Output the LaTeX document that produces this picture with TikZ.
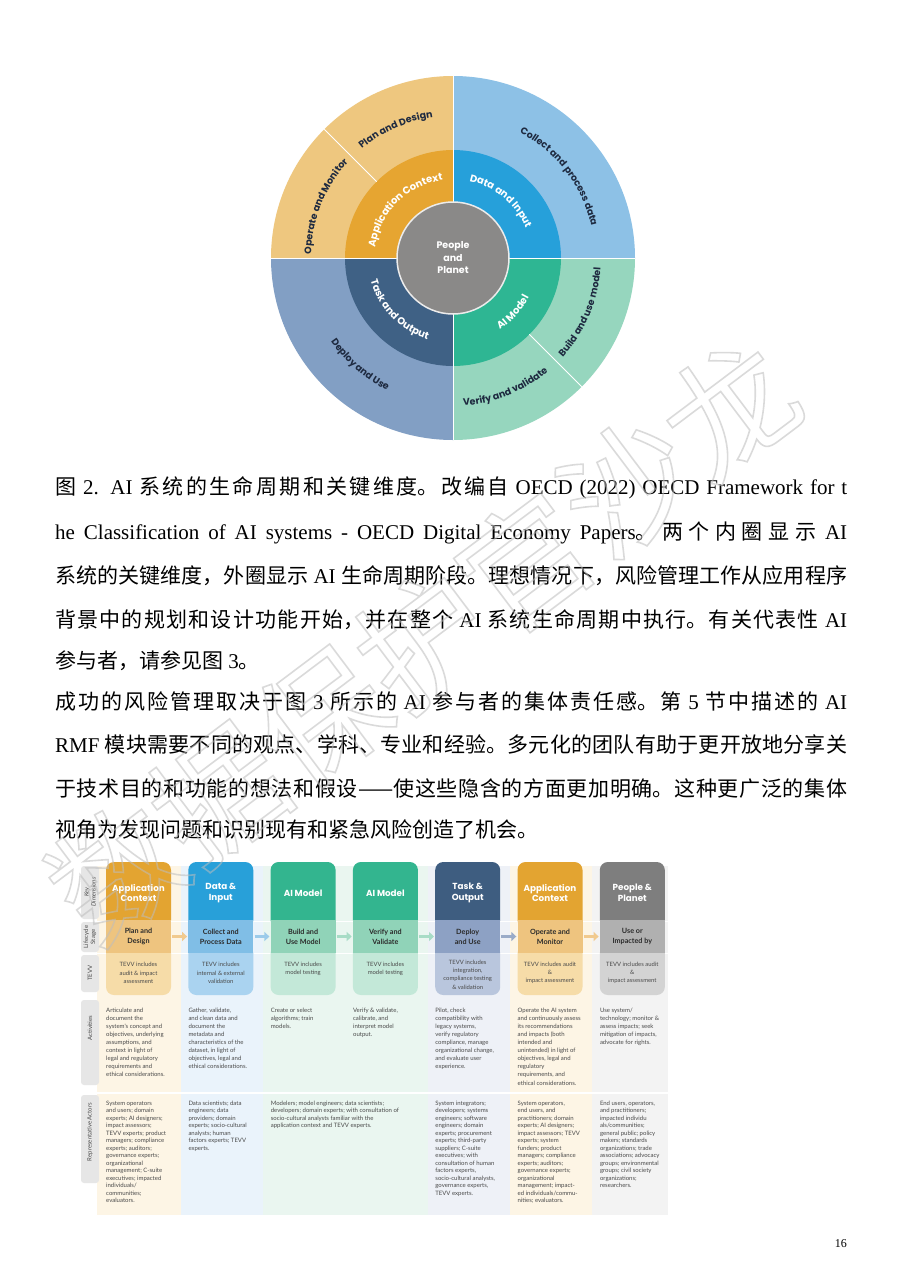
\documentclass[tikz,border=0pt]{standalone}
\usepackage{fontspec}
\setmainfont{Liberation Serif}
\newfontfamily\cjk{Noto Sans CJK SC}
\newfontfamily\pop{Poppins}
\newfontfamily\lato{Lato}
\usetikzlibrary{decorations.text,arrows.meta}
\XeTeXlinebreaklocale "zh"
\XeTeXlinebreakskip=0pt plus 4pt
% circle colours
\definecolor{oOr}{HTML}{EEC77F}
\definecolor{oBl}{HTML}{8DC1E6}
\definecolor{oSl}{HTML}{829FC4}
\definecolor{oGr}{HTML}{96D6BE}
\definecolor{mOr}{HTML}{E6A531}
\definecolor{mBl}{HTML}{26A0DA}
\definecolor{mSl}{HTML}{3F6185}
\definecolor{mGr}{HTML}{2EB693}
\definecolor{cGray}{HTML}{8A8988}
\definecolor{navytxt}{HTML}{1E2A40}
% table colours
\definecolor{hApp}{HTML}{E3A431}\definecolor{lApp}{HTML}{EEC47F}\definecolor{tApp}{HTML}{F6DCA8}
\definecolor{hDat}{HTML}{28A0D9}\definecolor{lDat}{HTML}{80BEE6}\definecolor{tDat}{HTML}{AAD3F0}
\definecolor{hAI}{HTML}{33B58F}\definecolor{lAI}{HTML}{90D3B8}\definecolor{tAI}{HTML}{C3E8D8}
\definecolor{hTsk}{HTML}{3E5D80}\definecolor{lTsk}{HTML}{8DA1C4}\definecolor{tTsk}{HTML}{B9C6DD}
\definecolor{hPpl}{HTML}{7E7E7E}\definecolor{lPpl}{HTML}{B0B0B0}\definecolor{tPpl}{HTML}{D3D3D3}
\definecolor{bApp}{HTML}{FDF5E5}\definecolor{bDat}{HTML}{EAF3FB}\definecolor{bAI}{HTML}{EAF6F0}
\definecolor{bTsk}{HTML}{EEF1F7}\definecolor{bPpl}{HTML}{F3F3F3}
\definecolor{aApp}{HTML}{F1CA8E}\definecolor{aDat}{HTML}{9CCBEA}\definecolor{aAI}{HTML}{A8DCC6}
\definecolor{aTsk}{HTML}{9AABC8}
\definecolor{smalltext}{HTML}{4A4A4A}
\definecolor{lifetext}{HTML}{2B2B2B}
\definecolor{labgray}{HTML}{E6E6E6}
\definecolor{wmgray}{HTML}{BDBDBD}
\newcommand\ofont{\pop\bfseries\fontsize{9.5}{11}\selectfont\color{navytxt}}
\newcommand\mfont{\pop\bfseries\fontsize{10}{12}\selectfont\color{white}}
\newcommand\jl{\noindent\parfillskip=0pt\relax}
\begin{document}
\begin{tikzpicture}[x=1pt,y=1pt,
  hdrtxt/.style={text=white,font=\pop\bfseries\fontsize{8.8}{10.5}\selectfont,align=center,inner sep=0},
  lifebox/.style={minimum width=65pt,minimum height=33pt,inner sep=0,align=center,font=\lato\bfseries\fontsize{7.2}{9.8}\selectfont,text=lifetext},
  tevvtxt/.style={align=center,inner sep=0,font=\lato\fontsize{5.9}{8.3}\selectfont,text=smalltext},
  acttxt/.style={align=left,anchor=north west,inner sep=0,font=\lato\fontsize{6}{8.1}\selectfont,text=smalltext},
  actortxt/.style={align=left,anchor=north west,inner sep=0,font=\lato\fontsize{6}{7.5}\selectfont,text=smalltext},
  rowlab/.style={rotate=90,align=center,inner sep=0,font=\lato\fontsize{6}{7}\selectfont,text=smalltext},
  para/.style={anchor=base west,inner sep=0,font=\fontsize{21}{26}\selectfont},
  flowarr/.style={line width=3.5pt,-{Triangle[width=9pt,length=5pt]},shorten <=1pt,shorten >=1pt},
  ringline/.style={white,line width=1pt}
]
\useasboundingbox (0,0) rectangle (902,-1275);
\fill[white] (0,0) rectangle (902,-1275);

% ================= circle =================
\begin{scope}[shift={(453,-258)}]
  \fill[oBl] (0,0) -- (0:182) arc[start angle=0,end angle=90,radius=182] -- cycle;
  \fill[oOr] (0,0) -- (90:182) arc[start angle=90,end angle=180,radius=182] -- cycle;
  \fill[oSl] (0,0) -- (180:182) arc[start angle=180,end angle=270,radius=182] -- cycle;
  \fill[oGr] (0,0) -- (270:182) arc[start angle=270,end angle=360,radius=182] -- cycle;
  \fill[mBl] (0,0) -- (0:108) arc[start angle=0,end angle=90,radius=108] -- cycle;
  \fill[mOr] (0,0) -- (90:108) arc[start angle=90,end angle=180,radius=108] -- cycle;
  \fill[mSl] (0,0) -- (180:108) arc[start angle=180,end angle=270,radius=108] -- cycle;
  \fill[mGr] (0,0) -- (270:108) arc[start angle=270,end angle=360,radius=108] -- cycle;
  \draw[ringline] (0:56) -- (0:182);
  \draw[ringline] (90:56) -- (90:182);
  \draw[ringline] (180:56) -- (180:182);
  \draw[ringline] (270:56) -- (270:182);
  \draw[ringline] (135:108) -- (135:182);
  \draw[ringline] (-45:108) -- (-45:182);
  \node[circle,fill=cGray,draw=white!85!gray,line width=1.5pt,minimum size=112pt,inner sep=0,
        align=center,text=white,font=\pop\bfseries\fontsize{9.5}{12.5}\selectfont] (pp) at (0,0) {People\\and\\Planet};
  % outer labels
  \path[decorate,decoration={text along path,text align=center,text={|\ofont|Plan and Design}}]
     (184:142) arc[start angle=184,end angle=44,radius=142];
  \path[decorate,decoration={text along path,text align=center,text={|\ofont|Operate and Monitor}}]
     (228:142) arc[start angle=228,end angle=88,radius=142];
  \path[decorate,decoration={text along path,text align=center,text={|\ofont|Collect and process data}}]
     (107.5:142) arc[start angle=107.5,end angle=-32.5,radius=142];
  \path[decorate,decoration={text along path,text align=center,text={|\ofont|Build and use model}}]
     (-93:148) arc[start angle=-93,end angle=47,radius=148];
  \path[decorate,decoration={text along path,text align=center,text={|\ofont|Verify and validate}}]
     (-138:148) arc[start angle=-138,end angle=2,radius=148];
  \path[decorate,decoration={text along path,text align=center,text={|\ofont|Deploy and Use}}]
     (-201:148) arc[start angle=-201,end angle=-61,radius=148];
  % middle labels
  \path[decorate,decoration={text along path,text align=center,text={|\mfont|Application Context}}]
     (205:78.5) arc[start angle=205,end angle=65,radius=78.5];
  \path[decorate,decoration={text along path,text align=center,text={|\mfont|Data and Input}}]
     (120:78.5) arc[start angle=120,end angle=-20,radius=78.5];
  \path[decorate,decoration={text along path,text align=center,text={|\mfont|Task and Output}}]
     (-206:85.5) arc[start angle=-206,end angle=-66,radius=85.5];
  \path[decorate,decoration={text along path,text align=center,text={|\mfont|AI Model}}]
     (-112:85.5) arc[start angle=-112,end angle=28,radius=85.5];
\end{scope}

% ================= paragraph =================
\node[para] (p1) at (55,-494) {\parbox[t]{792pt}{\jl{\cjk 图} 2. AI {\cjk 系统的生命周期和关键维度。改编自} OECD (2022) OECD Framework for t}};
\node[para] (p2) at (55,-539) {\parbox[t]{792pt}{\jl he Classification of AI systems - OECD Digital Economy Papers{\cjk 。两个内圈显示} AI}};
\node[para] (p3) at (55,-583) {\parbox[t]{792pt}{\jl{\cjk 系统的关键维度，外圈显示} AI {\cjk 生命周期阶段。理想情况下，风险管理工作从应用程序}}};
\node[para] (p4) at (55,-627) {\parbox[t]{792pt}{\jl{\cjk 背景中的规划和设计功能开始，并在整个} AI {\cjk 系统生命周期中执行。有关代表性} AI}};
\node[para] (p5) at (55,-668) {{\cjk 参与者，请参见图} 3{\cjk 。}};
\node[para] (p6) at (55,-709) {\parbox[t]{792pt}{\jl{\cjk 成功的风险管理取决于图} 3 {\cjk 所示的} AI {\cjk 参与者的集体责任感。第} 5 {\cjk 节中描述的} AI}};
\node[para] (p7) at (55,-752) {\parbox[t]{792pt}{\jl RMF {\cjk 模块需要不同的观点、学科、专业和经验。多元化的团队有助于更开放地分享关}}};
\node[para] (p8) at (55,-796) {\parbox[t]{792pt}{\jl{\cjk 于技术目的和功能的想法和假设——使这些隐含的方面更加明确。这种更广泛的集体}}};
\node[para] (p9) at (55,-837) {{\cjk 视角为发现问题和识别现有和紧急风险创造了机会。}};

% ================= table =================
% column bands
\fill[bApp] (97,-866) rectangle (181,-1215);
\fill[bDat] (181,-866) rectangle (263,-1215);
\fill[bAI]  (263,-866) rectangle (428,-1215);
\fill[bTsk] (428,-866) rectangle (510,-1215);
\fill[bApp] (510,-866) rectangle (592,-1215);
\fill[bPpl] (592,-866) rectangle (668,-1215);
\draw[white,line width=1pt] (97,-921) -- (668,-921);
\draw[white,line width=1pt] (97,-953) -- (668,-953);
\draw[white,line width=2pt] (97,-1093) -- (668,-1093);

% row labels
\fill[labgray,rounded corners=3pt] (81,-866) rectangle (99,-919);
\fill[labgray,rounded corners=3pt] (81,-922) rectangle (99,-952);
\fill[labgray,rounded corners=3pt] (81,-955) rectangle (99,-992);
\fill[labgray,rounded corners=3pt] (81,-1000) rectangle (99,-1085);
\fill[labgray,rounded corners=3pt] (81,-1095) rectangle (99,-1183);
\node[rowlab] (rk) at (90,-892) {\itshape Key\\\itshape Dimensions};
\node[rowlab] (rl) at (90,-937) {Lifecycle\\Stage};
\node[rowlab] (rt) at (90,-973) {TEVV};
\node[rowlab] (ra) at (90,-1028) {Activities};
\node[rowlab] (rr) at (90,-1132) {Representative Actors};

% boxes: header / TEVV backgrounds
\fill[hApp,rounded corners=8pt] (106,-862) rectangle (171,-928);
\fill[hDat,rounded corners=8pt] (188.3,-862) rectangle (253.3,-928);
\fill[hAI,rounded corners=8pt] (270.6,-862) rectangle (335.6,-928);
\fill[hAI,rounded corners=8pt] (352.9,-862) rectangle (417.9,-928);
\fill[hTsk,rounded corners=8pt] (435.2,-862) rectangle (500.2,-928);
\fill[hApp,rounded corners=8pt] (517.5,-862) rectangle (582.5,-928);
\fill[hPpl,rounded corners=8pt] (599.8,-862) rectangle (664.8,-928);
\fill[tApp,rounded corners=8pt] (106,-945) rectangle (171,-995);
\fill[tDat,rounded corners=8pt] (188.3,-945) rectangle (253.3,-995);
\fill[tAI,rounded corners=8pt] (270.6,-945) rectangle (335.6,-995);
\fill[tAI,rounded corners=8pt] (352.9,-945) rectangle (417.9,-995);
\fill[tTsk,rounded corners=8pt] (435.2,-945) rectangle (500.2,-995);
\fill[tApp,rounded corners=8pt] (517.5,-945) rectangle (582.5,-995);
\fill[tPpl,rounded corners=8pt] (599.8,-945) rectangle (664.8,-995);

% lifecycle nodes
\node[lifebox,fill=lApp] (l1) at (138.5,-936.5) {Plan and\\Design};
\node[lifebox,fill=lDat] (l2) at (220.8,-936.5) {Collect and\\Process Data};
\node[lifebox,fill=lAI]  (l3) at (303.1,-936.5) {Build and\\Use Model};
\node[lifebox,fill=lAI]  (l4) at (385.4,-936.5) {Verify and\\Validate};
\node[lifebox,fill=lTsk] (l5) at (467.7,-936.5) {Deploy\\and Use};
\node[lifebox,fill=lApp] (l6) at (550,-936.5) {Operate and\\Monitor};
\node[lifebox,fill=lPpl] (l7) at (632.3,-936.5) {Use or\\Impacted by};

% header text
\node[hdrtxt] (h1) at (138.5,-893) {Application\\Context};
\node[hdrtxt] (h2) at (220.8,-893) {Data \&\\Input};
\node[hdrtxt] (h3) at (303.1,-893) {AI Model};
\node[hdrtxt] (h4) at (385.4,-893) {AI Model};
\node[hdrtxt] (h5) at (467.7,-893) {Task \&\\Output};
\node[hdrtxt] (h6) at (550,-893) {Application\\Context};
\node[hdrtxt] (h7) at (632.3,-893) {People \&\\Planet};

% TEVV text
\node[tevvtxt] (t1) at (138.5,-973) {TEVV includes\\audit \& impact\\assessment};
\node[tevvtxt] (t2) at (220.8,-973) {TEVV includes\\internal \& external\\validation};
\node[tevvtxt] (t3) at (303.1,-969) {TEVV includes\\model testing};
\node[tevvtxt] (t4) at (385.4,-969) {TEVV includes\\model testing};
\node[tevvtxt] (t5) at (467.7,-974.5) {TEVV includes\\integration,\\compliance testing\\\& validation};
\node[tevvtxt] (t6) at (550,-973) {TEVV includes audit\\\&\\impact assessment};
\node[tevvtxt] (t7) at (632.3,-973) {TEVV includes audit\\\&\\impact assessment};

% arrows
\draw[flowarr,aApp] (l1.east) -- (l2.west);
\draw[flowarr,aDat] (l2.east) -- (l3.west);
\draw[flowarr,aAI]  (l3.east) -- (l4.west);
\draw[flowarr,aAI]  (l4.east) -- (l5.west);
\draw[flowarr,aTsk] (l5.east) -- (l6.west);
\draw[flowarr,aApp] (l6.east) -- (l7.west);

% activities
\node[acttxt] (a1) at (106,-1007.5) {Articulate and\\document the\\system's concept and\\objectives, underlying\\assumptions, and\\context in light of\\legal and regulatory\\requirements and\\ethical considerations.};
\node[acttxt] (a2) at (188.3,-1007.5) {Gather, validate,\\and clean data and\\document the\\metadata and\\characteristics of the\\dataset, in light of\\objectives, legal and\\ethical considerations.};
\node[acttxt] (a3) at (270.6,-1007.5) {Create or select\\algorithms; train\\models.};
\node[acttxt] (a4) at (352.9,-1007.5) {Verify \& validate,\\calibrate, and\\interpret model\\output.};
\node[acttxt] (a5) at (435.2,-1007.5) {Pilot, check\\compatibility with\\legacy systems,\\verify regulatory\\compliance, manage\\organizational change,\\and evaluate user\\experience.};
\node[acttxt] (a6) at (517.5,-1007.5) {Operate the AI system\\and continuously assess\\its recommendations\\and impacts (both\\intended and\\unintended) in light of\\objectives, legal and\\regulatory\\requirements, and\\ethical considerations.};
\node[acttxt] (a7) at (599.8,-1007.5) {Use system/\\technology; monitor \&\\assess impacts; seek\\mitigation of impacts,\\advocate for rights.};

% representative actors
\node[actortxt] (r1) at (106,-1100.5) {System operators\\and users; domain\\experts; AI designers;\\impact assessors;\\TEVV experts; product\\managers; compliance\\experts; auditors;\\governance experts;\\organizational\\management; C-suite\\executives; impacted\\individuals/\\communities;\\evaluators.};
\node[actortxt] (r2) at (188.3,-1100.5) {Data scientists; data\\engineers; data\\providers; domain\\experts; socio-cultural\\analysts; human\\factors experts; TEVV\\experts.};
\node[actortxt] (r3) at (270.6,-1100.5) {Modelers; model engineers; data scientists;\\developers; domain experts; with consultation of\\socio-cultural analysts familiar with the\\application context and TEVV experts.};
\node[actortxt] (r5) at (435.2,-1100.5) {System integrators;\\developers; systems\\engineers; software\\engineers; domain\\experts; procurement\\experts; third-party\\suppliers; C-suite\\executives; with\\consultation of human\\factors experts,\\socio-cultural analysts,\\governance experts,\\TEVV experts.};
\node[actortxt] (r6) at (517.5,-1100.5) {System operators,\\end users, and\\practitioners; domain\\experts; AI designers;\\impact assessors; TEVV\\experts; system\\funders; product\\managers; compliance\\experts; auditors;\\governance experts;\\organizational\\management; impact-\\ed individuals/commu-\\nities; evaluators.};
\node[actortxt] (r7) at (599.8,-1100.5) {End users, operators,\\and practitioners;\\impacted individu\\als/communities;\\general public; policy\\makers; standards\\organizations; trade\\associations; advocacy\\groups; environmental\\groups; civil society\\organizations;\\researchers.};

% page number
\node[anchor=base east,inner sep=0,font=\fontsize{12}{14}\selectfont] (pg) at (847,-1247) {16};

% watermark (outlined glyphs)
\node[rotate=37,inner sep=0,text=wmgray,opacity=0.55,font=\cjk\fontsize{128}{128}\selectfont] (wm) at (423,-640)
  {\special{pdf:literal direct 1 Tr 1.6 w}数据保护官沙龙\special{pdf:literal direct 0 Tr}};
\end{tikzpicture}
\end{document}
